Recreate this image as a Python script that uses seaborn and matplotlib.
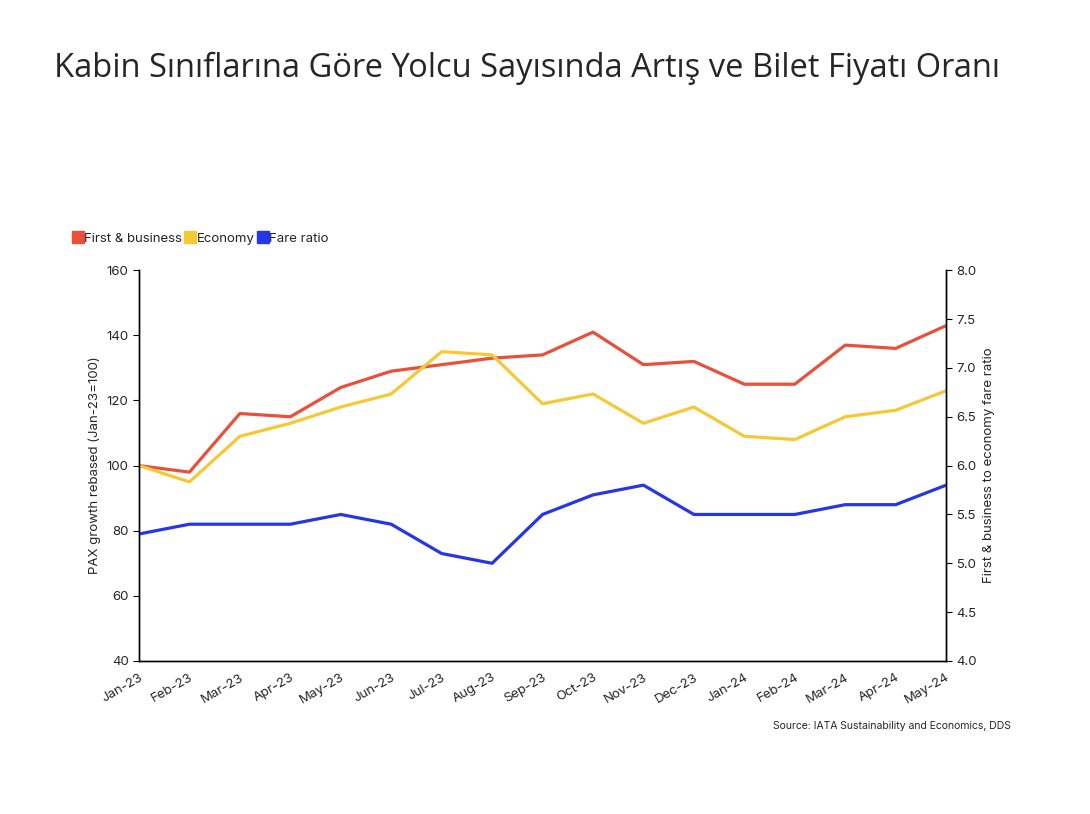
import matplotlib
matplotlib.use("Agg")
import matplotlib.pyplot as plt
import seaborn as sns
import pandas as pd
from matplotlib.lines import Line2D

months = ["Jan-23","Feb-23","Mar-23","Apr-23","May-23","Jun-23","Jul-23","Aug-23","Sep-23",
          "Oct-23","Nov-23","Dec-23","Jan-24","Feb-24","Mar-24","Apr-24","May-24"]
first_business = [100,98,116,115,124,129,131,133,134,141,131,132,125,125,137,136,143]
economy = [100,95,109,113,118,122,135,134,119,122,113,118,109,108,115,117,123]
fare_ratio = [5.3,5.4,5.4,5.4,5.5,5.4,5.1,5.0,5.5,5.7,5.8,5.5,5.5,5.5,5.6,5.6,5.8]

RED, YEL, BLU = "#e8503a", "#f5c936", "#2536e8"
sns.set_style("white")
plt.rcParams["font.family"] = "Inter"

df = pd.DataFrame({"x": range(len(months)), "fb": first_business, "ec": economy, "fr": fare_ratio})
fig = plt.figure(figsize=(10.9, 8.14), dpi=100)
ax = fig.add_axes([0.1275, 0.188, 0.7405, 0.480])
sns.lineplot(data=df, x="x", y="fb", color=RED, lw=2.3, ax=ax)
sns.lineplot(data=df, x="x", y="ec", color=YEL, lw=2.3, ax=ax)
ax2 = ax.twinx()
sns.lineplot(data=df, x="x", y="fr", color=BLU, lw=2.3, ax=ax2)

ax.set_xlim(0, len(months) - 1)
ax.set_ylim(40, 160)
ax.set_yticks(range(40, 161, 20))
ax2.set_ylim(4, 8)
ax2.set_yticks([4 + 0.5 * i for i in range(9)])
ax2.set_yticklabels([f"{4 + 0.5 * i:.1f}" for i in range(9)])
ax.set_xticks(range(len(months)))
ax.set_xticklabels(months, rotation=30, ha="right", rotation_mode="anchor")
ax.set_xlabel("")
ax.set_ylabel("PAX growth rebased (Jan-23=100)", fontsize=9.5)
ax2.set_ylabel("First & business to economy fare ratio", fontsize=9.5)
for a in (ax, ax2):
    a.spines["top"].set_visible(False)
    for s in ("left", "right", "bottom"):
        a.spines[s].set_color("black")
        a.spines[s].set_linewidth(1)
    a.tick_params(axis="both", labelsize=9.5, length=4, color="black", direction="out")
    a.grid(False)

fig.text(0.05, 0.916, "Kabin Sınıflarına Göre Yolcu Sayısında Artış ve Bilet Fiyatı Oranı",
         fontsize=23.5, family="Open Sans", va="center")
handles = [Line2D([], [], marker="s", ls="", color=c, markersize=8) for c in (RED, YEL, BLU)]
fig.legend(handles, ["First & business", "Economy", "Fare ratio"], loc="center left",
           bbox_to_anchor=(0.058, 0.707), ncol=3, frameon=False, fontsize=9.5,
           handlelength=0.8, handletextpad=0.1, columnspacing=0.2, borderpad=0.2)
fig.text(0.927, 0.108, "Source: IATA Sustainability and Economics, DDS", fontsize=7.5,
         ha="right", va="center")
fig.savefig("out.png", dpi=100)
